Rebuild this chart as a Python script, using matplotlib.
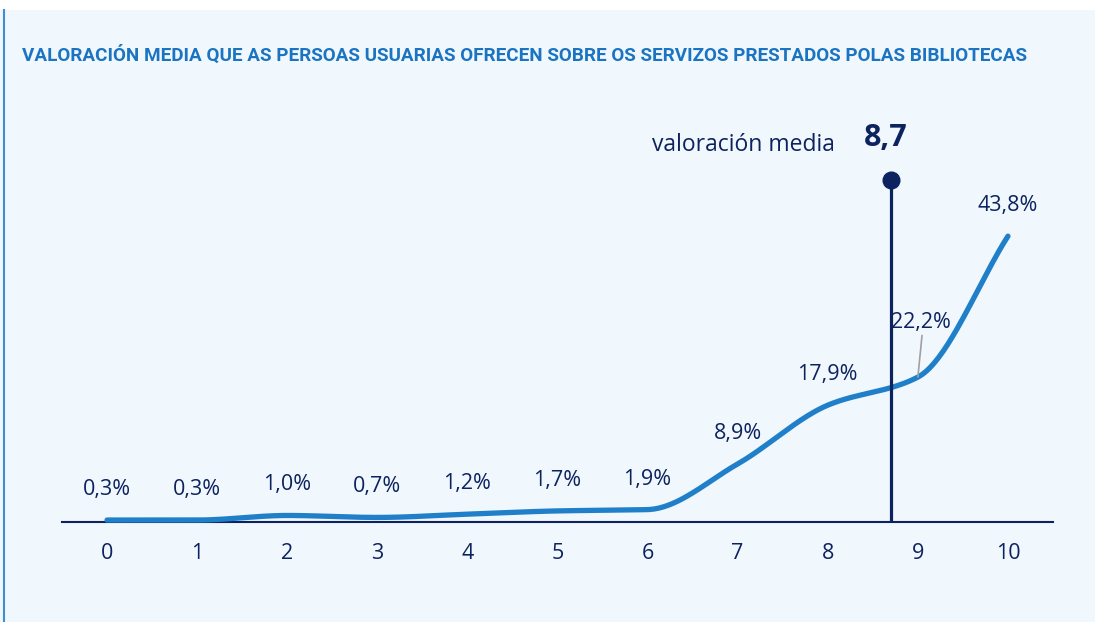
import numpy as np
import matplotlib
matplotlib.use("Agg")
import matplotlib.pyplot as plt

# ---- data ----
scores = [0, 1, 2, 3, 4, 5, 6, 7, 8, 9, 10]
shares = [0.3, 0.3, 1.0, 0.7, 1.2, 1.7, 1.9, 8.9, 17.9, 22.2, 43.8]
share_labels = ["0,3%", "0,3%", "1,0%", "0,7%", "1,2%", "1,7%", "1,9%",
                "8,9%", "17,9%", "22,2%", "43,8%"]
tick_labels = [str(s) for s in scores]
mean_score = 8.7
mean_label = "8,7"
mean_caption = "valoración media"
title = ("VALORACIÓN MEDIA QUE AS PERSOAS USUARIAS OFRECEN SOBRE OS SERVIZOS "
         "PRESTADOS POLAS BIBLIOTECAS")

# ---- style ----
BG = "#f0f7fd"
BLUE = "#1f7fc9"
TITLE_BLUE = "#1a74c1"
NAVY = "#0d235f"
FONT = "Open Sans"
TITLE_FONT = "Roboto"


def monotone_cubic(x, y, n=40):
    """Fritsch-Carlson monotone cubic interpolation for a smooth line."""
    x = np.asarray(x, float)
    y = np.asarray(y, float)
    h = np.diff(x)
    d = np.diff(y) / h
    m = np.zeros_like(y)
    m[0], m[-1] = d[0], d[-1]
    for i in range(1, len(y) - 1):
        if d[i - 1] * d[i] <= 0:
            m[i] = 0
        else:
            w1 = 2 * h[i] + h[i - 1]
            w2 = h[i] + 2 * h[i - 1]
            m[i] = (w1 + w2) / (w1 / d[i - 1] + w2 / d[i])
    xs, ys = [], []
    for i in range(len(x) - 1):
        t = np.linspace(0, 1, n, endpoint=(i == len(x) - 2))
        h00 = 2 * t**3 - 3 * t**2 + 1
        h10 = t**3 - 2 * t**2 + t
        h01 = -2 * t**3 + 3 * t**2
        h11 = t**3 - t**2
        xs.append(x[i] + t * h[i])
        ys.append(h00 * y[i] + h10 * h[i] * m[i] + h01 * y[i + 1] + h11 * h[i] * m[i + 1])
    return np.concatenate(xs), np.concatenate(ys)


W, H = 1095, 622
fig = plt.figure(figsize=(W / 100, H / 100), dpi=100)
fig.patch.set_facecolor("white")

# panel background + left border
fig.add_artist(plt.Rectangle((0, 0), 1, (H - 10) / H, transform=fig.transFigure,
                             facecolor=BG, edgecolor="none", zorder=-10))
fig.add_artist(plt.Line2D([3.5 / W, 3.5 / W], [0, (H - 10) / H],
                          transform=fig.transFigure, color="#3d8fd1", lw=1.5))

t = fig.text(22 / W, 1 - 55 / H, title, color=TITLE_BLUE, fontsize=13,
             fontweight="bold", family=TITLE_FONT, ha="left", va="center")
# fit title width to ~1003 px
renderer = fig.canvas.get_renderer()
wpx = t.get_window_extent(renderer).width
t.set_fontsize(13 * 1003 / wpx)

ax = fig.add_axes([62 / W, 100 / H, 991 / W, 372 / H])
ax.set_facecolor("none")
ax.set_xlim(-0.5, 10.5)
ax.set_ylim(0, 57.0)
for s in ["top", "right", "left"]:
    ax.spines[s].set_visible(False)
ax.spines["bottom"].set_color(NAVY)
ax.spines["bottom"].set_linewidth(1.5)
ax.set_yticks([])
ax.set_xticks(scores)
ax.set_xticklabels(tick_labels, family=FONT, fontsize=15.5, color=NAVY)
ax.tick_params(axis="x", length=0, pad=15)

xs, ys = monotone_cubic(scores, shares)
ax.plot(xs, ys, color=BLUE, lw=3.8, solid_capstyle="round", clip_on=False, zorder=3)

# mean line
top = 52.4
ax.plot([mean_score, mean_score], [0.5, top], color=NAVY, lw=2.3, zorder=4,
        clip_on=False)
ax.plot([mean_score], [top], "o", color=NAVY, ms=12, zorder=5, clip_on=False)
ax.annotate(mean_label, (mean_score, top), xytext=(-4, 30), textcoords="offset points",
            ha="center", va="center", fontsize=22, fontweight="bold",
            color=NAVY, family=FONT)
ax.annotate(mean_caption, (mean_score, top), xytext=(-40, 25), textcoords="offset points",
            ha="right", va="center", fontsize=16.5, color=NAVY, family=FONT)

# value labels
for i, (x, v, lab) in enumerate(zip(scores, shares, share_labels)):
    if i == 9:
        ax.annotate(lab, (x, v), xytext=(2, 39), textcoords="offset points",
                    ha="center", va="center", fontsize=15.5, color=NAVY, family=FONT,
                    zorder=6)
        ax.annotate("", (x, v), xytext=(3, 30), textcoords="offset points",
                    arrowprops=dict(arrowstyle="-", color="#a0a0a0", lw=1.2,
                                    shrinkA=0, shrinkB=0))
    else:
        ax.annotate(lab, (x, v), xytext=(0, 22), textcoords="offset points",
                    ha="center", va="center", fontsize=15.5, color=NAVY, family=FONT)

fig.savefig("out.png", dpi=100, facecolor=fig.get_facecolor())
